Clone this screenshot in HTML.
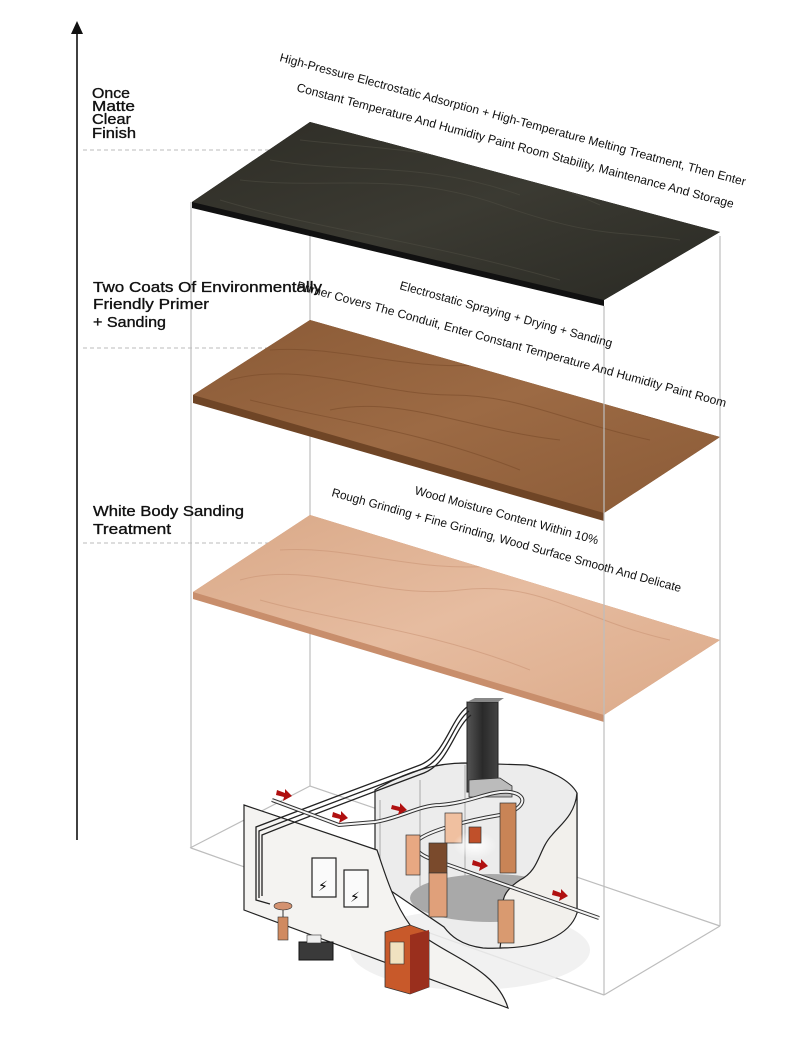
<!DOCTYPE html>
<html><head><meta charset="utf-8"><style>
html,body{margin:0;padding:0;background:#fff;}
svg{display:block;}
.lbl{font-family:"Liberation Sans",sans-serif;font-size:15px;font-weight:normal;fill:#111;stroke:#111;stroke-width:0.35px;}
.rt{font-family:"Liberation Sans Narrow","Liberation Sans",sans-serif;font-size:12px;fill:#111;}
</style></head><body>
<svg width="790" height="1060" viewBox="0 0 790 1060" xmlns="http://www.w3.org/2000/svg">
<defs>
<linearGradient id="dark" x1="0" y1="0" x2="1" y2="1">
<stop offset="0" stop-color="#2e2d26"/><stop offset="0.5" stop-color="#3b3a32"/><stop offset="1" stop-color="#2a2a24"/></linearGradient>
<linearGradient id="mid" x1="0" y1="0" x2="1" y2="1">
<stop offset="0" stop-color="#8a5a36"/><stop offset="0.5" stop-color="#9c6a44"/><stop offset="1" stop-color="#8b5b37"/></linearGradient>
<linearGradient id="light" x1="0" y1="0" x2="1" y2="1">
<stop offset="0" stop-color="#d9a887"/><stop offset="0.5" stop-color="#e6bca0"/><stop offset="1" stop-color="#dcaa89"/></linearGradient>
<radialGradient id="glow" cx="0.5" cy="0.5" r="0.5"><stop offset="0" stop-color="#fff"/><stop offset="1" stop-color="#fff" stop-opacity="0"/></radialGradient>
<linearGradient id="col" x1="0" x2="1"><stop offset="0" stop-color="#555"/><stop offset="0.5" stop-color="#2a2a2a"/><stop offset="1" stop-color="#444"/></linearGradient>
<clipPath id="c1"><polygon points="192,202 310,122 720,232 604,300"/></clipPath>
<clipPath id="c2"><polygon points="193,395 310,320 720,437 604,513"/></clipPath>
<clipPath id="c3"><polygon points="193,592 310,515 720,640 604,715"/></clipPath>
</defs>

<line x1="77" y1="30" x2="77" y2="840" stroke="#111" stroke-width="1.6"/>
<polygon points="77,21 71,34 83,34" fill="#111"/>

<g stroke="#bbb" stroke-width="1" stroke-dasharray="4,3">
<line x1="83" y1="150" x2="275" y2="150"/>
<line x1="83" y1="348" x2="310" y2="348"/>
<line x1="83" y1="543" x2="300" y2="543"/>
</g>

<g stroke="#bdbdbd" stroke-width="1.2" fill="none">
<line x1="310" y1="122" x2="310" y2="786"/>
<polyline points="190,848 310,786 720,926"/>
</g>

<polygon points="192,202 310,122 720,232 604,300 604,306 192,208" fill="#111"/>
<polygon points="192,202 310,122 720,232 604,300" fill="url(#dark)"/>
<g stroke="#4a493f" stroke-width="1" fill="none" opacity="0.7" clip-path="url(#c1)">
<path d="M240,180 C330,190 400,170 500,205 S620,230 680,240"/>
<path d="M270,160 C360,175 420,160 520,195"/>
<path d="M300,140 C390,150 480,150 600,205"/>
<path d="M220,200 C320,230 420,240 560,280"/>
</g>

<polygon points="193,395 310,320 720,437 604,513 604,521 193,403" fill="#6f4526"/>
<polygon points="193,395 310,320 720,437 604,513" fill="url(#mid)"/>
<g stroke="#7a4b2a" stroke-width="1" fill="none" opacity="0.6" clip-path="url(#c2)">
<path d="M230,380 C300,360 380,395 450,395 S560,420 650,440"/>
<path d="M270,350 C340,345 400,370 480,365 S580,400 660,420"/>
<path d="M250,400 C330,420 420,430 520,470"/>
<path d="M330,410 C400,395 470,430 560,440"/>
</g>

<polygon points="193,592 310,515 720,640 604,715 604,722 193,599" fill="#c88e6c"/>
<polygon points="193,592 310,515 720,640 604,715" fill="url(#light)"/>
<g stroke="#c99273" stroke-width="1" fill="none" opacity="0.55" clip-path="url(#c3)">
<path d="M240,580 C310,560 380,600 460,590 S580,620 670,640"/>
<path d="M280,550 C350,545 420,575 500,565 S600,600 680,625"/>
<path d="M260,600 C330,620 430,630 530,670"/>
</g>

<g stroke="#bdbdbd" stroke-width="1.2" fill="none">
<line x1="191" y1="202" x2="191" y2="848"/>
<line x1="604" y1="306" x2="604" y2="995"/>
<line x1="720" y1="236" x2="720" y2="926"/>
<line x1="191" y1="848" x2="604" y2="995"/>
<line x1="720" y1="926" x2="604" y2="995"/>
</g>

<ellipse cx="470" cy="950" rx="120" ry="40" fill="#eee" opacity="0.8"/>
<path d="M375,790 C400,775 430,763 465,763 L527,765 C550,770 570,780 577,793 L577,913 C560,940 520,950 483,948 C460,945 450,935 444,927 L375,880 Z" fill="#ececec" stroke="#222" stroke-width="1.2"/>
<path d="M380,800 L380,880 M420,780 L420,900 M465,765 L465,920" stroke="#999" stroke-width="0.8"/>
<ellipse cx="490" cy="898" rx="80" ry="24" fill="#a9a9a9"/>
<path d="M577,793 C575,815 560,825 552,835 C538,850 540,870 520,880 C505,890 500,900 505,910 L500,948 C540,948 570,935 577,913 Z" fill="#f2f0ec" stroke="#222" stroke-width="1.2"/>
<path d="M244,805 L377,850 C384,870 392,900 410,925 C440,955 495,965 508,1008 L244,910 Z" fill="#f4f3f1" stroke="#222" stroke-width="1.2"/>
<rect x="467" y="702" width="31" height="90" fill="url(#col)" stroke="#222"/>
<polygon points="467,702 475,698 504,698 498,702" fill="#888"/>
<polygon points="469,780 500,778 512,786 512,797 469,797" fill="#bbb" stroke="#333" stroke-width="0.8"/>
<g fill="none" stroke="#222" stroke-width="1.3">
<path d="M467,707 C450,720 445,755 420,765 C380,780 300,810 256,827 L256,900 L270,904"/>
<path d="M469,711 C452,724 447,759 422,769 C382,784 302,814 259,831 L259,898"/>
<path d="M471,715 C454,728 449,763 424,773 C384,788 304,818 262,835 L262,896"/>
</g>
<path d="M272,800 L339,825 L375,822 C400,818 420,805 440,805 C470,803 490,790 510,792 C530,795 525,810 500,815 C470,820 430,830 418,840 C412,850 420,856 440,862 L599,918" fill="none" stroke="#333" stroke-width="4"/>
<path d="M272,800 L339,825 L375,822 C400,818 420,805 440,805 C470,803 490,790 510,792 C530,795 525,810 500,815 C470,820 430,830 418,840 C412,850 420,856 440,862 L599,918" fill="none" stroke="#f5f5f5" stroke-width="2"/>
<rect x="406" y="835" width="14" height="40" fill="#e8a882" stroke="#333" stroke-width="0.7"/>
<rect x="445" y="813" width="17" height="30" fill="#f0c0a0" stroke="#333" stroke-width="0.7"/>
<rect x="500" y="803" width="16" height="70" fill="#c98456" stroke="#333" stroke-width="0.7"/>
<rect x="429" y="843" width="18" height="30" fill="#7a4a2c" stroke="#333" stroke-width="0.7"/>
<rect x="429" y="873" width="18" height="44" fill="#e0a07a" stroke="#333" stroke-width="0.7"/>
<rect x="498" y="900" width="16" height="43" fill="#d99a70" stroke="#333" stroke-width="0.7"/>
<ellipse cx="475" cy="845" rx="22" ry="14" fill="url(#glow)"/>
<rect x="469" y="827" width="12" height="16" fill="#c0502a" stroke="#333" stroke-width="0.7"/>
<g stroke="#222" stroke-width="1.2" fill="#fafafa">
<rect x="312" y="858" width="24" height="39"/><rect x="344" y="870" width="24" height="37"/>
</g>
<text x="318" y="891" font-size="14" font-family="DejaVu Sans">⚡</text>
<text x="350" y="902" font-size="14" font-family="DejaVu Sans">⚡</text>
<polygon points="385,932 410,925 429,932 429,987 410,994 385,987" fill="#c8592a" stroke="#333" stroke-width="0.8"/>
<polygon points="410,935 429,930 429,987 410,994" fill="#9a2f1d"/>
<rect x="390" y="942" width="14" height="22" fill="#f0e2c0" stroke="#333" stroke-width="0.6"/>
<rect x="299" y="942" width="34" height="18" fill="#3a3a3a" stroke="#111"/>
<rect x="307" y="935" width="14" height="8" fill="#eee" stroke="#333" stroke-width="0.6"/>
<ellipse cx="283" cy="906" rx="9" ry="4" fill="#d49270" stroke="#333" stroke-width="0.6"/>
<line x1="283" y1="910" x2="283" y2="917" stroke="#333"/>
<rect x="278" y="917" width="10" height="23" fill="#d08a60" stroke="#333" stroke-width="0.6"/>
<g fill="#b01010">
<polygon points="277,790 285,793 285,789 292,796 283,801 284,797 276,795"/>
<polygon points="333,812 341,815 341,811 348,818 339,823 340,819 332,817"/>
<polygon points="392,805 400,807 400,803 407,810 398,815 399,811 391,809"/>
<polygon points="473,860 481,863 481,859 488,866 479,871 480,867 472,865"/>
<polygon points="553,890 561,893 561,889 568,896 559,901 560,897 552,895"/>
</g>

<text class="lbl"><tspan x="92" y="98" textLength="38" lengthAdjust="spacingAndGlyphs">Once</tspan><tspan x="92" y="111" textLength="43" lengthAdjust="spacingAndGlyphs">Matte</tspan><tspan x="92" y="124" textLength="39" lengthAdjust="spacingAndGlyphs">Clear</tspan><tspan x="92" y="138" textLength="44" lengthAdjust="spacingAndGlyphs">Finish</tspan></text>
<text class="lbl"><tspan x="93" y="292" textLength="229" lengthAdjust="spacingAndGlyphs">Two Coats Of Environmentally</tspan><tspan x="93" y="309" textLength="116" lengthAdjust="spacingAndGlyphs">Friendly Primer</tspan><tspan x="93" y="327" textLength="73" lengthAdjust="spacingAndGlyphs">+ Sanding</tspan></text>
<text class="lbl"><tspan x="93" y="516" textLength="151" lengthAdjust="spacingAndGlyphs">White Body Sanding</tspan><tspan x="93" y="534" textLength="78" lengthAdjust="spacingAndGlyphs">Treatment</tspan></text>

<text class="rt" transform="translate(279,61) rotate(15)" textLength="482" lengthAdjust="spacingAndGlyphs">High-Pressure Electrostatic Adsorption + High-Temperature Melting Treatment, Then Enter</text>
<text class="rt" transform="translate(296,91) rotate(15)" textLength="452" lengthAdjust="spacingAndGlyphs">Constant Temperature And Humidity Paint Room Stability, Maintenance And Storage</text>
<text class="rt" transform="translate(399,289) rotate(15.4)" textLength="220" lengthAdjust="spacingAndGlyphs">Electrostatic Spraying + Drying + Sanding</text>
<text class="rt" transform="translate(296,289) rotate(15.4)" textLength="445" lengthAdjust="spacingAndGlyphs">Primer Covers The Conduit, Enter Constant Temperature And Humidity Paint Room</text>
<text class="rt" transform="translate(414,494) rotate(15.4)" textLength="190" lengthAdjust="spacingAndGlyphs">Wood Moisture Content Within 10%</text>
<text class="rt" transform="translate(331,496) rotate(15.4)" textLength="362" lengthAdjust="spacingAndGlyphs">Rough Grinding + Fine Grinding, Wood Surface Smooth And Delicate</text>
</svg>
</body></html>
